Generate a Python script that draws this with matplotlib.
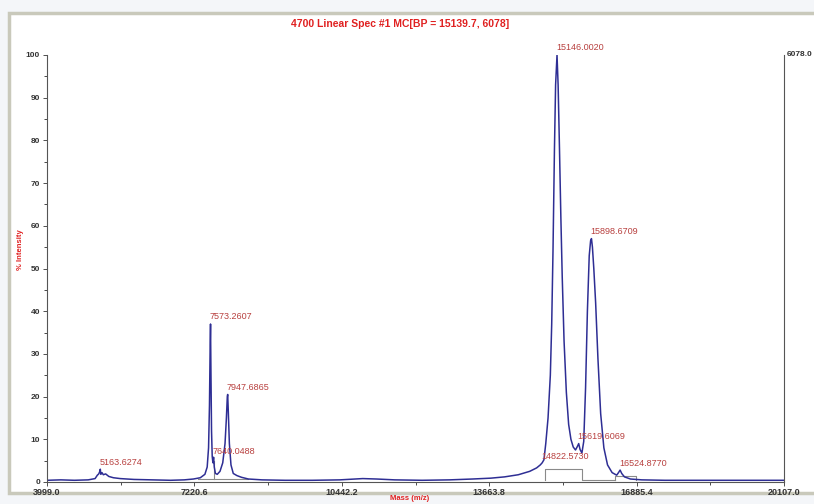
import matplotlib
matplotlib.use('Agg')
import matplotlib.pyplot as plt
from matplotlib.patches import Rectangle
from matplotlib.ticker import MultipleLocator, FixedLocator

plt.rcParams['font.family'] = ['Liberation Sans Narrow', 'Liberation Sans', 'DejaVu Sans']

# spectrum trace (mass, % intensity)
mass = [3999, 4300, 4600, 4900, 5050, 5100, 5130, 5150, 5164, 5175, 5200, 5230, 5280,
        5350, 5450, 5600, 5900, 6300, 6700, 7000, 7200, 7350, 7450, 7500, 7530, 7550,
        7565, 7573, 7582, 7595, 7610, 7625, 7640, 7655, 7680, 7720, 7780, 7840, 7890,
        7920, 7940, 7948, 7960, 7985, 8020, 8070, 8150, 8250, 8400, 8700, 9200, 9800,
        10400, 10900, 11200, 11600, 12200, 12800, 13300, 13700, 14000, 14300, 14550,
        14700, 14780, 14822, 14860, 14900, 14950, 15000, 15030, 15058, 15090, 15115,
        15146, 15170, 15200, 15230, 15260, 15300, 15350, 15400, 15450, 15500, 15550,
        15590, 15620, 15650, 15690, 15730, 15770, 15810, 15850, 15880, 15899, 15920,
        15950, 15990, 16040, 16100, 16170, 16250, 16350, 16450, 16490, 16525, 16560,
        16620, 16750, 17000, 17500, 18500, 19500, 20107]
intensity = [0.4, 0.5, 0.4, 0.5, 0.8, 1.6, 1.9, 2.4, 3.0, 1.8, 2.2, 1.7, 1.9,
             1.3, 1.0, 0.8, 0.6, 0.5, 0.4, 0.5, 0.7, 1.0, 1.8, 3.5, 8, 18,
             32, 37, 26, 12, 6, 4.5, 5.8, 3.5, 2.0, 1.8, 2.5, 4.5, 9,
             15, 20, 20.5, 17, 9, 4, 2.0, 1.5, 1.1, 0.7, 0.5, 0.4, 0.4,
             0.5, 0.8, 0.7, 0.5, 0.4, 0.5, 0.7, 0.9, 1.2, 1.7, 2.5,
             3.3, 4.0, 4.5, 5.2, 9, 15, 25, 37, 54, 78, 93,
             100, 93, 78, 62, 48, 33, 21, 13.5, 10, 8.2, 7.5,
             8.3, 9.0, 7.6, 6.8, 9.5, 22, 40, 53, 56.5, 57, 55,
             50, 42, 29, 16, 8, 4, 2.2, 1.6, 2.2, 2.8, 2.0,
             1.2, 0.7, 0.5, 0.4, 0.4, 0.4, 0.4]

# labelled peaks
peak_mass = [5163.6274, 7573.2607, 7640.0488, 7947.6865, 14822.5730,
             15146.0020, 15619.6069, 15898.6709, 16524.8770]
peak_int = [2.9, 37, 5.6, 20.5, 4.3, 100, 9.0, 57, 2.6]

# integration baselines (grey)
base_lines = [
    ([7300, 8400], [0.7, 0.7]),
    ([7640, 7640], [0.7, 5.0]),
    ([14880, 14880, 15690, 15690, 16410], [0.5, 3.0, 3.0, 0.5, 0.5]),
    ([16410, 16410, 16870, 16870], [0.5, 1.5, 1.5, 0.5]),
]

x_ticks = [3999.0, 7220.6, 10442.2, 13663.8, 16885.4, 20107.0]
x_min, x_max = 3999.0, 20107.0
bp_abs = '6078.0'
title = '4700 Linear Spec #1 MC[BP = 15139.7, 6078]'

fig = plt.figure(figsize=(8.14, 5.04), dpi=100, facecolor='#f4f6f9')
# white panel with grey frame, behind the axes
panel = Rectangle((9 / 814, 11 / 504), 1.0, 480 / 504, transform=fig.transFigure,
                  facecolor='white', edgecolor='#c9c9bb', linewidth=2.5, zorder=-10)
fig.patches.append(panel)

ax = fig.add_axes([47 / 814, 22 / 504, 737 / 814, 427 / 504])
ax.set_facecolor('none')

for bx, by in base_lines:
    ax.plot(bx, by, color='#8a8a8a', lw=0.8)

ax.plot(mass, intensity, color='#2e2e94', lw=1.1)

red = '#b8403f'
for pm, pi in zip(peak_mass, peak_int):
    ax.text(pm - 20, pi + 0.6, f'{pm:.4f}', color=red, fontsize=6.5,
            ha='left', va='bottom', clip_on=False)

ax.set_xlim(x_min, x_max)
ax.set_ylim(0, 100)
ax.spines['top'].set_visible(False)
for s in ['left', 'right', 'bottom']:
    ax.spines[s].set_color('#555555')
    ax.spines[s].set_linewidth(0.8)

ax.xaxis.set_major_locator(FixedLocator(x_ticks))
ax.xaxis.set_minor_locator(FixedLocator([(a + b) / 2 for a, b in zip(x_ticks[:-1], x_ticks[1:])]))
ax.set_xticklabels([f'{t:.1f}' for t in x_ticks], fontsize=6.5, fontweight='bold', color='#333333')
ax.yaxis.set_major_locator(MultipleLocator(10))
ax.yaxis.set_minor_locator(MultipleLocator(5))
ax.tick_params(axis='y', labelsize=6, colors='#333333', length=3, width=0.6, pad=2)
ax.tick_params(axis='x', length=3, width=0.6, pad=1, colors='#333333')
ax.tick_params(which='minor', length=2, width=0.5)
for lab in ax.get_yticklabels():
    lab.set_fontweight('bold')

ax.text(x_max + 60, 100, bp_abs, fontsize=6, fontweight='bold', color='#333333',
        ha='left', va='center', clip_on=False)

fig.text(400 / 814, 1 - 24 / 504, title, color='#e02020', fontsize=7.5, fontweight='bold',
         ha='center', va='center')
fig.text(410 / 814, 1 - 499 / 504, 'Mass (m/z)', color='#e02020', fontsize=5.5,
         fontweight='bold', ha='center', va='center')
fig.text(20 / 814, 1 - 250 / 504, '% Intensity', color='#e02020', fontsize=5.5,
         fontweight='bold', rotation=90, ha='center', va='center')

plt.savefig('out.png', dpi=100, facecolor=fig.get_facecolor())
